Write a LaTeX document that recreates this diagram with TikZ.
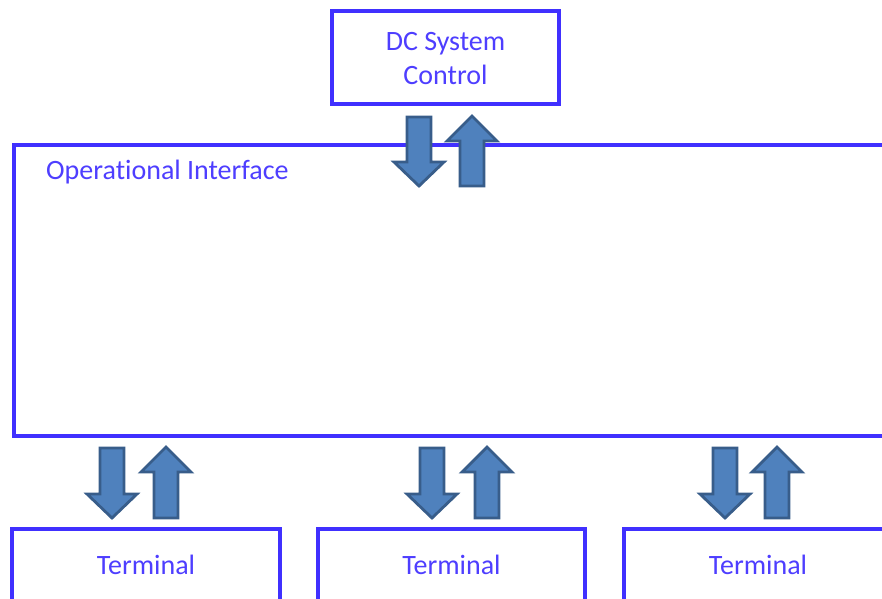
\documentclass[tikz,border=0pt]{standalone}
\usepackage{fontspec}
\setmainfont{Carlito}[Ligatures=NoCommon]
\definecolor{boxblue}{RGB}{64,48,255}
\definecolor{textblue}{RGB}{78,62,255}
\definecolor{arrowfill}{RGB}{79,129,189}
\definecolor{arrowedge}{RGB}{56,93,138}
% block arrows: #1 = centre x, #2 = tail y, #3 = tip y
\newcommand\blockdown[3]{%
  \draw[blockarrow] (#1-12,#2) -- (#1+12,#2) -- (#1+12,#3-24) -- (#1+25,#3-24)
    -- (#1,#3) -- (#1-25,#3-24) -- (#1-12,#3-24) -- cycle;}
\newcommand\blockup[3]{%
  \draw[blockarrow] (#1-12,#2) -- (#1+12,#2) -- (#1+12,#3+25) -- (#1+25,#3+25)
    -- (#1,#3) -- (#1-25,#3+25) -- (#1-12,#3+25) -- cycle;}
\begin{document}
\begin{tikzpicture}[x=1pt,y=-1pt,
  box/.style={draw=boxblue,line width=3.5pt,fill=white,inner sep=0pt},
  lbl/.style={text=textblue,font=\fontsize{28}{34}\selectfont,inner sep=0pt,align=center},
  blockarrow/.style={fill=arrowfill,draw=arrowedge,line width=2.8pt,line join=miter}]
\useasboundingbox (0,0) rectangle (882,598);
\clip (0,0) rectangle (882,598);

% boxes
\node[box,minimum width=227pt,minimum height=93pt] (dc) at (445.5,57.5) {};
\node[box,minimum width=881pt,minimum height=291pt] (op) at (454.5,290.5) {};
\node[box,minimum width=268pt,minimum height=111pt] (t1) at (146,584.5) {};
\node[box,minimum width=267pt,minimum height=111pt] (t2) at (451.5,584.5) {};
\node[box,minimum width=268pt,minimum height=111pt] (t3) at (758,584.5) {};

% texts
\node[lbl] (dctext) at (445.5,59) {DC System\\Control};
\node[lbl,anchor=west] (optext) at (46,172) {Operational Interface};
\node[lbl] (t1text) at (146,565) {Terminal};
\node[lbl] (t2text) at (451.5,565) {Terminal};
\node[lbl] (t3text) at (758,565) {Terminal};

% paired data-flow arrows
\blockdown{419}{117}{186}
\blockup{472}{186}{116}
\blockdown{112}{448}{518}
\blockup{166}{518}{447}
\blockdown{432}{448}{518}
\blockup{487}{518}{447}
\blockdown{725}{448}{518}
\blockup{777}{518}{447}
\end{tikzpicture}
\end{document}
